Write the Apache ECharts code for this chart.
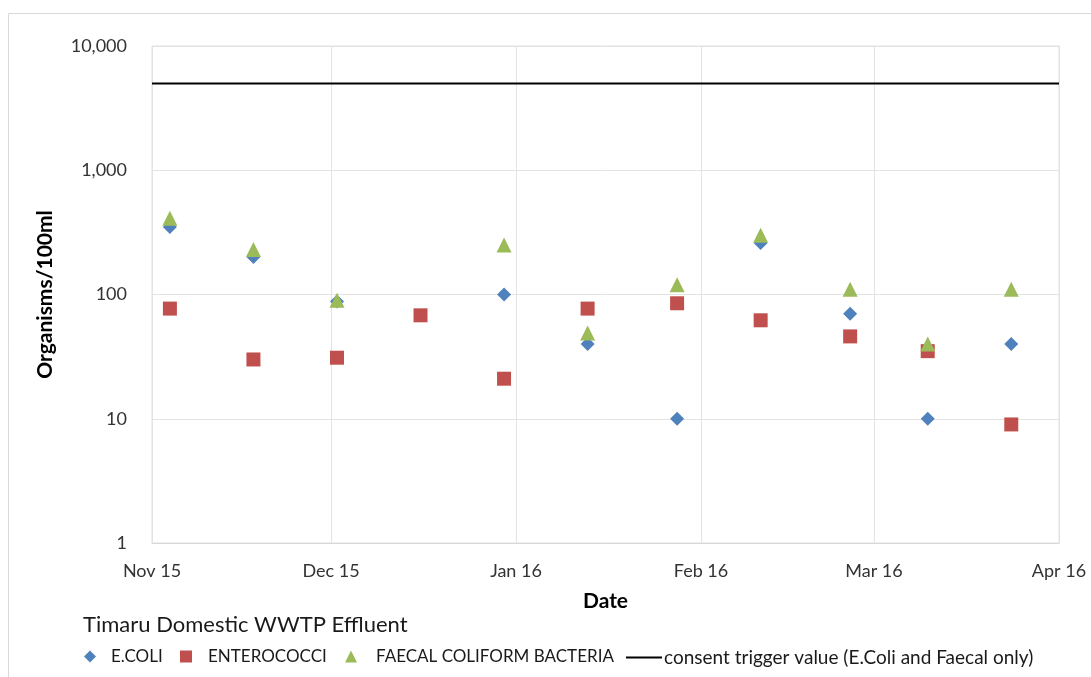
<!DOCTYPE html>
<html>
<head>
<meta charset="utf-8">
<script src="https://cdn.jsdelivr.net/npm/echarts@6/dist/echarts.min.js"></script>
<style>
  html, body { margin: 0; padding: 0; background: #fff; }
  #chart { width: 1091px; height: 677px; }
</style>
</head>
<body>
<div id="chart"></div>
<script>
// ---- data ----
var sampleDates = ['2015-11-04', '2015-11-18', '2015-12-02', '2015-12-16', '2015-12-30',
                   '2016-01-13', '2016-01-28', '2016-02-11', '2016-02-26', '2016-03-10', '2016-03-24'];
var ecoli       = [350, 200, 88, null, 100, 40, 10, 260, 70, 10, 40];
var enterococci = [77, 30, 31, 68, 21, 77, 85, 62, 46, 35, 9];
var faecal      = [410, 230, 90, null, 250, 49, 120, 300, 110, 40, 110];
var consentValue = 5000;
var axisStart = '2015-11-01';
var axisEnd = '2016-04-01';
var yTicks = [1, 10, 100, 1000, 10000];
var monthNames = ['Jan','Feb','Mar','Apr','May','Jun','Jul','Aug','Sep','Oct','Nov','Dec'];
var seriesNames = ['E.COLI', 'ENTEROCOCCI', 'FAECAL COLIFORM BACTERIA', 'consent trigger value (E.Coli and Faecal only)'];
var chartTitle = 'Timaru Domestic WWTP Effluent';

function pairs(dates, vals) {
  var out = [];
  for (var i = 0; i < dates.length; i++) {
    if (vals[i] != null) out.push([dates[i], vals[i]]);
  }
  return out;
}

var FONT = 'Lato, "Liberation Sans", sans-serif';
var chart = echarts.init(document.getElementById('chart'), null, { renderer: 'canvas' });

function legendText(pad, size) {
  return { color: '#1a1a1a', fontSize: size || 17, fontFamily: FONT, padding: pad };
}

chart.setOption({
  animation: false,
  backgroundColor: '#ffffff',
  textStyle: { fontFamily: FONT },
  graphic: [{
    type: 'rect', silent: true, z: -1,
    shape: { x: 8.5, y: 13.5, width: 1200, height: 800 },
    style: { fill: 'none', stroke: '#d9d9d9', lineWidth: 1 }
  }],
  title: {
    text: chartTitle,
    left: 83, top: 614,
    padding: 0,
    textStyle: { fontSize: 22, fontWeight: 'normal', color: '#1a1a1a', fontFamily: FONT }
  },
  legend: [
    { data: [seriesNames[0]], left: 84, top: 648, padding: 0, itemWidth: 12, itemHeight: 12,
      textStyle: legendText([0, 0, 0, 10]) },
    { data: [seriesNames[1]], left: 180, top: 648, padding: 0, itemWidth: 12, itemHeight: 12,
      textStyle: legendText([0, 0, 0, 11]) },
    { data: [seriesNames[2]], left: 345, top: 648, padding: 0, itemWidth: 12, itemHeight: 12,
      textStyle: legendText([0, 0, 0, 14]) },
    { data: [{ name: seriesNames[3], icon: 'rect' }], left: 626, top: 648, padding: 0,
      itemWidth: 36, itemHeight: 2,
      textStyle: legendText([0, 0, 0, -3], 19) }
  ],
  grid: {
    left: 152, top: 46, width: 907, height: 497,
    show: true, borderColor: '#dedede', borderWidth: 1
  },
  xAxis: {
    type: 'time',
    min: axisStart, max: axisEnd,
    splitNumber: 5,
    minInterval: 28 * 86400000,
    maxInterval: 31 * 86400000,
    name: 'Date',
    nameLocation: 'middle',
    nameGap: 48,
    nameTextStyle: { fontSize: 21, fontWeight: 'bold', color: '#000', fontFamily: FONT },
    axisLine: { show: true, lineStyle: { color: '#d9d9d9', width: 1 } },
    axisTick: { show: false },
    splitLine: { show: true, lineStyle: { color: '#e3e3e3', width: 1 } },
    axisLabel: {
      show: true, margin: 19, fontSize: 18, color: '#333', fontFamily: FONT,
      showMinLabel: true, showMaxLabel: true, hideOverlap: false,
      formatter: function (val) {
        var d = new Date(val);
        return monthNames[d.getMonth()] + ' ' + String(d.getFullYear()).slice(2);
      }
    }
  },
  yAxis: {
    type: 'log', logBase: 10,
    min: yTicks[0], max: yTicks[yTicks.length - 1],
    name: 'Organisms/100ml',
    nameLocation: 'middle',
    nameGap: 96,
    nameRotate: 90,
    nameTextStyle: { fontSize: 21, fontWeight: 'bold', color: '#000', fontFamily: FONT },
    axisLine: { show: false },
    axisTick: { show: false },
    splitLine: { show: true, lineStyle: { color: '#e3e3e3', width: 1 } },
    axisLabel: {
      margin: 25, fontSize: 18, color: '#333', fontFamily: FONT,
      formatter: function (v) { return Math.round(v).toLocaleString('en-US'); }
    }
  },
  series: [
    { name: seriesNames[0], type: 'scatter', symbol: 'diamond', symbolSize: 14,
      itemStyle: { color: '#4F81BD', opacity: 1 }, data: pairs(sampleDates, ecoli), z: 3 },
    { name: seriesNames[1], type: 'scatter', symbol: 'rect', symbolSize: 14,
      itemStyle: { color: '#C0504D', opacity: 1 }, data: pairs(sampleDates, enterococci), z: 4 },
    { name: seriesNames[2], type: 'scatter', symbol: 'triangle', symbolSize: 15,
      itemStyle: { color: '#9BBB59', opacity: 1 }, data: pairs(sampleDates, faecal), z: 5 },
    { name: seriesNames[3], type: 'line', symbol: 'none', showSymbol: false,
      lineStyle: { color: '#000', width: 2 }, itemStyle: { color: '#000' },
      data: [[axisStart, consentValue], [axisEnd, consentValue]], z: 6 }
  ]
});
</script>
</body>
</html>
